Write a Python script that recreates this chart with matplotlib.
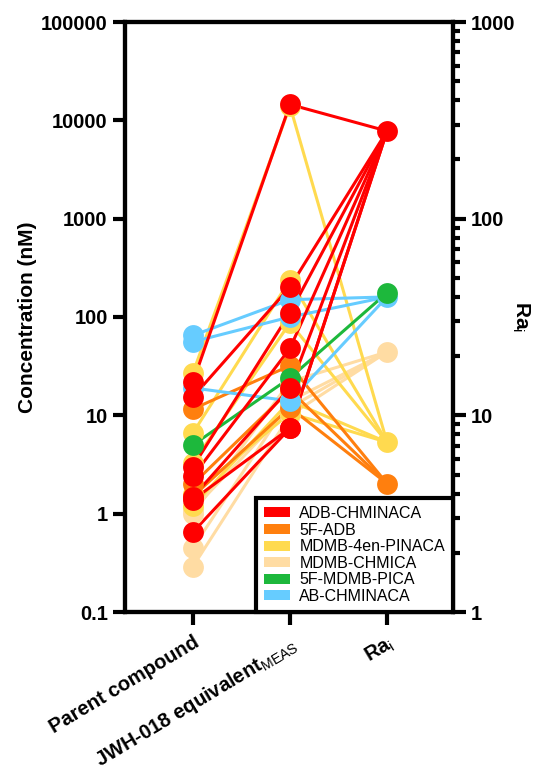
import matplotlib
matplotlib.use('Agg')
import matplotlib.pyplot as plt
from matplotlib.patches import Patch
from matplotlib.ticker import LogLocator, NullFormatter, FixedLocator

plt.rcParams['font.family'] = ['Liberation Sans', 'DejaVu Sans']
plt.rcParams['mathtext.fontset'] = 'custom'
plt.rcParams['mathtext.rm'] = 'Liberation Sans'

# DATA
categories = ['Parent compound', r'JWH-018 equivalent$_\mathrm{MEAS}$', r'Ra$_\mathrm{i}$']
compounds = ['ADB-CHMINACA', '5F-ADB', 'MDMB-4en-PINACA', 'MDMB-CHMICA', '5F-MDMB-PICA', 'AB-CHMINACA']
colors = ['#FF0000', '#FF7F0E', '#FFDA4F', '#FFDCA3', '#1DB83C', '#66CCFF']

# parent compound (nM)
adb_parent = [21.8, 15.4, 3.0, 2.4, 1.48, 1.38, 0.65]
f5adb_parent = [11.6, 2.0, 1.5]
mdmb4en_parent = [27, 6.6, 3.3, 1.6, 1.2]
chmica_parent = [1.0, 0.45, 0.29, 1.1]
pica_parent = [5.0]
ab_parent = [65, 56, 19]

# JWH-018 equivalent (nM)
adb_jwh = [14500, 202, 110, 48, 19, 7.4, 7.4]
f5adb_jwh = [32, 18, 12]
mdmb4en_jwh = [14000, 238, 87, 10.5, 14]
chmica_jwh = [22, 14, 10, 12]
pica_jwh = [24]
ab_jwh = [150, 100, 14]

# Ra_i (right axis)
ra_values = [279, 4.5, 7.3, 21, 42, 40]

parents = [adb_parent, f5adb_parent, mdmb4en_parent, chmica_parent, pica_parent, ab_parent]
jwhs = [adb_jwh, f5adb_jwh, mdmb4en_jwh, chmica_jwh, pica_jwh, ab_jwh]
zorders = [6, 3, 2, 1, 5, 4]

fig = plt.figure(figsize=(5.39, 7.75), dpi=100)
ax = fig.add_axes([125 / 539, 1 - 612 / 775, (453 - 125) / 539, 590 / 775])
ax.set_yscale('log')
ax.set_ylim(0.1, 100000)
ax.set_xlim(-0.70, 2.68)
ax2 = ax.twinx()
ax2.set_yscale('log')
ax2.set_ylim(1, 1000)


def ra_to_left(r):
    disp = ax2.transData.transform((2, r))
    return ax.transData.inverted().transform(disp)[1]


for i in range(len(compounds)):
    ra_left = ra_to_left(ra_values[i])
    z = zorders[i]
    for p, j in zip(parents[i], jwhs[i]):
        ax.plot([0, 1, 2], [p, j, ra_left], color=colors[i], lw=2.2, zorder=z, solid_capstyle='round')
    ax.plot([0] * len(parents[i]), parents[i], 'o', color=colors[i], ms=15, mec='none', zorder=z + 10)
    ax.plot([1] * len(jwhs[i]), jwhs[i], 'o', color=colors[i], ms=15, mec='none', zorder=z + 10)
    ax.plot([2], [ra_left], 'o', color=colors[i], ms=15, mec='none', zorder=z + 10)

# axes styling
for a in [ax, ax2]:
    for s in a.spines.values():
        s.set_linewidth(3)
        s.set_color('black')

ax.yaxis.set_major_locator(FixedLocator([0.1, 1, 10, 100, 1000, 10000, 100000]))
ax.set_yticklabels(['0.1', '1', '10', '100', '1000', '10000', '100000'])
ax.yaxis.set_minor_locator(FixedLocator([]))
ax.tick_params(axis='y', which='major', length=9, width=3, labelsize=14.5, direction='out')
for t in ax.get_yticklabels():
    t.set_fontweight('bold')

ax.set_xticks([0, 1, 2])
ax.set_xticklabels(categories, rotation=31, ha='right', rotation_mode='anchor', fontsize=14.5, fontweight='bold')
ax.tick_params(axis='x', length=9, width=3, pad=6)

ax2.yaxis.set_major_locator(FixedLocator([1, 10, 100, 1000]))
ax2.set_yticklabels(['1', '10', '100', '1000'])
ax2.yaxis.set_minor_locator(LogLocator(base=10, subs=range(2, 10)))
ax2.yaxis.set_minor_formatter(NullFormatter())
ax2.tick_params(axis='y', which='major', length=9, width=3, labelsize=14.5)
ax2.tick_params(axis='y', which='minor', length=5, width=3)
for t in ax2.get_yticklabels():
    t.set_fontweight('bold')

ax.set_ylabel('Concentration (nM)', fontsize=15, fontweight='bold', labelpad=3)
ax2.set_ylabel(r'Ra$_\mathrm{i}$', fontsize=15, fontweight='bold', rotation=270, labelpad=12)

handles = [Patch(facecolor=c, edgecolor='none') for c in colors]
leg = ax2.legend(handles, compounds, loc='lower right', borderaxespad=0, fontsize=11.5,
                 frameon=True, fancybox=False, edgecolor='black', framealpha=1,
                 handlelength=1.6, handleheight=0.6, labelspacing=0.1, handletextpad=0.6,
                 borderpad=0.5)
leg.get_frame().set_linewidth(3)
leg.set_zorder(30)

fig.savefig('out.png', dpi=100)
